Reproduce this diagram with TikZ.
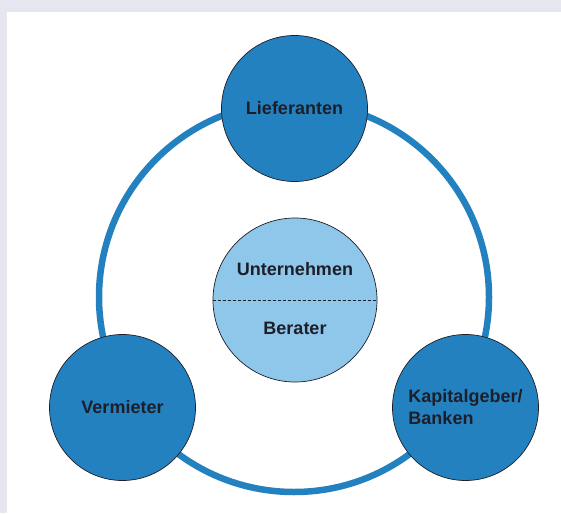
\documentclass[tikz,border=0pt]{standalone}
\usepackage{fontspec}
\setmainfont{Liberation Sans}
\definecolor{bgframe}{HTML}{E6E6F0}
\definecolor{darkblue}{HTML}{2481C0}
\definecolor{lightblue}{HTML}{8EC7EA}
\definecolor{txt}{HTML}{1E1E28}
\tikzset{
  party/.style={circle, draw=txt, line width=0.7pt, fill=darkblue, minimum size=146pt, inner sep=0pt},
  lbl/.style={text=txt, font=\bfseries\fontsize{18}{22}\selectfont},
}
\begin{document}
\begin{tikzpicture}[x=1pt,y=-1pt]
\useasboundingbox (0,0) rectangle (561,513);
\fill[bgframe] (0,0) rectangle (561,513);
\fill[white] (7,12) rectangle (561,513);
\node (ring) [circle, draw=darkblue, line width=6.5pt, minimum size=390pt, inner sep=0pt] at (294,297) {};
\node (lief) [party, lbl] at (294.5,108.5) {Lieferanten};
\node (verm) [party, lbl] at (122.5,407.5) {Vermieter};
\node (kap) [party, lbl, align=left] at (465.5,407.5) {Kapitalgeber/\\Banken};
\node (core) [circle, draw=txt, line width=0.7pt, fill=lightblue, minimum size=164pt, inner sep=0pt] at (295,300) {};
\draw[txt, line width=0.7pt, dash pattern=on 3pt off 2pt] (core.west) -- (core.east);
\node (unt) [lbl] at (295,269) {Unternehmen};
\node (ber) [lbl] at (295,328) {Berater};
\end{tikzpicture}
\end{document}
